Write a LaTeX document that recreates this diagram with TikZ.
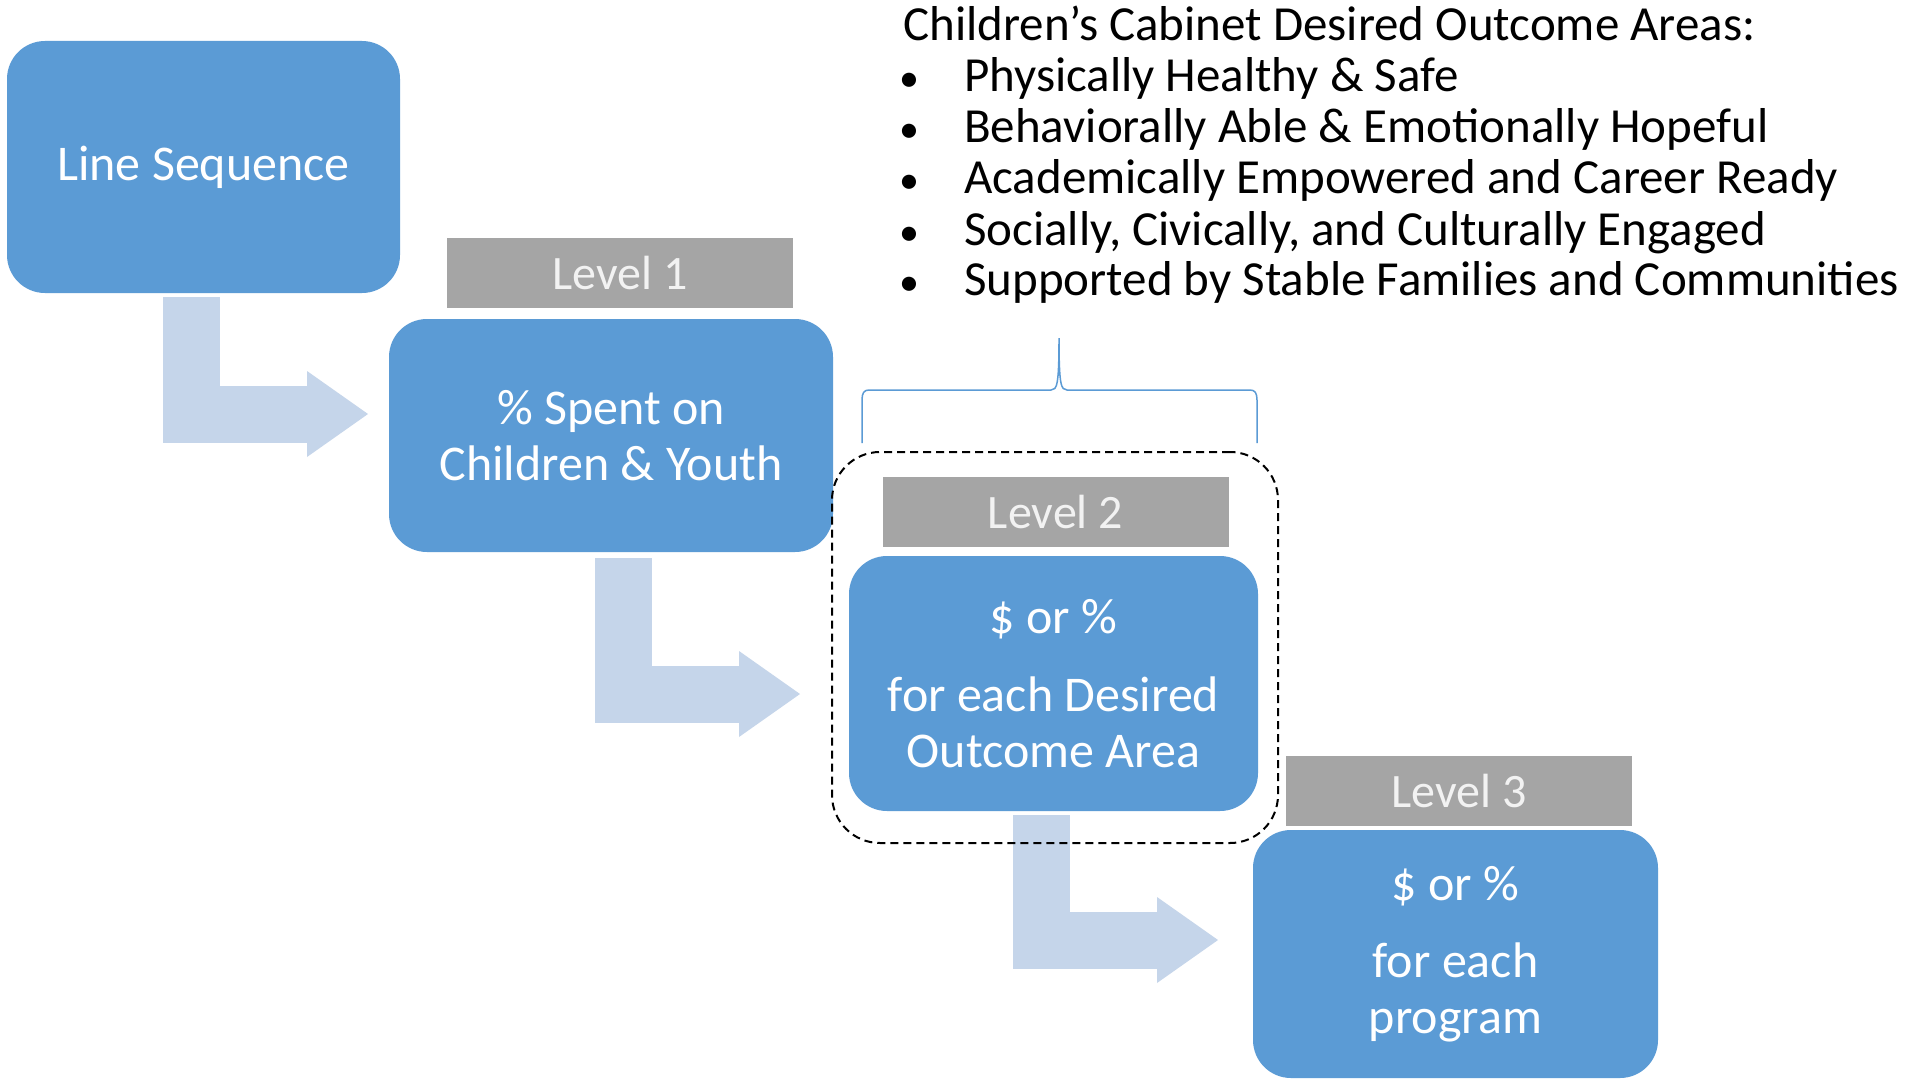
\documentclass[tikz,border=0pt]{standalone}
\usepackage{fontspec}
\setmainfont{Carlito}
\usetikzlibrary{arrows.meta}
\definecolor{boxblue}{HTML}{5B9BD5}
\definecolor{arrowblue}{HTML}{C5D5EA}
\definecolor{levelgray}{HTML}{A5A5A5}
\definecolor{leveltext}{HTML}{F2F2F2}
\definecolor{bracecol}{HTML}{5B9BD5}
\begin{document}
\begin{tikzpicture}[x=1pt,y=-1pt,
  bluebox/.style={fill=boxblue, draw=none, rounded corners=38pt, text=white, align=center,
    font=\fontsize{50}{56}\selectfont, inner sep=0pt},
  levelbox/.style={fill=levelgray, draw=none, text=leveltext, minimum width=346pt, minimum height=70pt,
    font=\fontsize{48}{56}\selectfont, inner sep=0pt},
  bentarrow/.style={draw=arrowblue, line width=57pt, line join=miter,
    -{Triangle[length=61pt,width=86pt,line width=0pt]}},
  dashbox/.style={draw=black, line width=2pt, dash pattern=on 8pt off 5pt, rounded corners=48pt, inner sep=0pt},
  hdr/.style={anchor=base west, inner sep=0pt, font=\fontsize{49}{51}\selectfont, text=black},
  bull/.style={anchor=base, inner sep=0pt, font=\fontsize{40}{51}\selectfont, text=black},
  brace/.style={draw=bracecol, line width=1.5pt}
]
\useasboundingbox (0,0) rectangle (1908,1081);
\fill[white] (0,0) rectangle (1908,1081);

% arrows (behind)
\coordinate (a1s) at (191.5,297);
\coordinate (a1e) at (368,414);
\coordinate (a2s) at (623.5,558);
\coordinate (a2e) at (800,694);
\coordinate (a3s) at (1041.5,815);
\coordinate (a3e) at (1218,940);
\draw[bentarrow] (a1s) |- (a1e);
\draw[bentarrow] (a2s) |- (a2e);
\draw[bentarrow] (a3s) |- (a3e);

% boxes
\node[bluebox, minimum width=393pt, minimum height=252pt] (b1) at (203.5,167) {Line Sequence};
\node[bluebox, minimum width=444pt, minimum height=233pt] (b2) at (611,435.5) {\% Spent on\\Children \& Youth};
\node[bluebox, minimum width=409pt, minimum height=255pt] (b3) at (1053.5,683.5) {\$ or \%\\[22pt]for each Desired\\Outcome Area};
\node[bluebox, minimum width=405pt, minimum height=248pt] (b4) at (1455.5,954) {\$ or \%\\[21pt]for each\\program};

% level labels
\node[levelbox] (l1) at (620,273) {Level 1};
\node[levelbox] (l2) at (1055.5,512) {Level 2};
\node[levelbox] (l3) at (1459,791) {Level 3};

% dashed group
\node[dashbox, minimum width=446pt, minimum height=391pt] (grp) at (1055,647.5) {};

% brace
\draw[brace] (862,443) -- (862,400) .. controls (862,393) and (864,390) .. (869,390) -- (1051,390)
  .. controls (1057,390) and (1059,385) .. (1059,338)
  .. controls (1059,385) and (1061,390) .. (1067,390) -- (1250,390)
  .. controls (1255,390) and (1257,393) .. (1257,400) -- (1257,443);

% header text
\node[hdr] (t0) at (903,41) {Children’s Cabinet Desired Outcome Areas:};
\node[bull] (p1) at (909,91) {•};
\node[hdr] (t1) at (964,91) {Physically Healthy \& Safe};
\node[bull] (p2) at (909,142) {•};
\node[hdr] (t2) at (964,142) {Behaviorally Able \& Emotionally Hopeful};
\node[bull] (p3) at (909,193) {•};
\node[hdr] (t3) at (964,193) {Academically Empowered and Career Ready};
\node[bull] (p4) at (909,245) {•};
\node[hdr] (t4) at (964,245) {Socially, Civically, and Culturally Engaged};
\node[bull] (p5) at (909,295) {•};
\node[hdr] (t5) at (964,295) {Supported by Stable Families and Communities};
\end{tikzpicture}
\end{document}
